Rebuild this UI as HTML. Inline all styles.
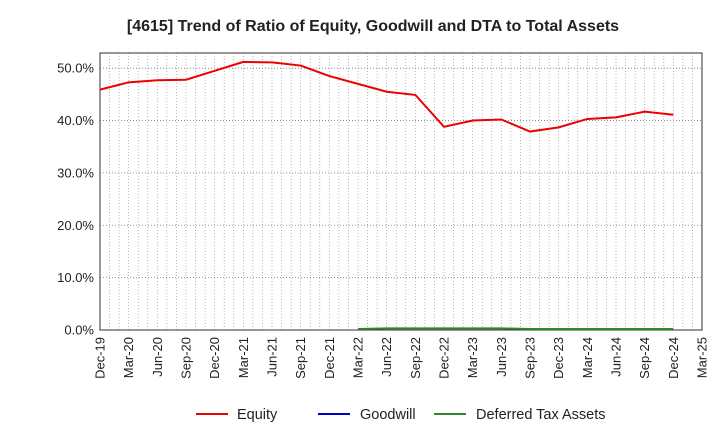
<!DOCTYPE html>
<html><head><meta charset="utf-8"><style>
body{margin:0;background:#fff;font-family:"Liberation Sans",Arial,sans-serif}
</style></head><body>
<svg id="chart" width="720" height="440" xmlns="http://www.w3.org/2000/svg" font-family="Liberation Sans, Arial, sans-serif">
<text x="373" y="31" text-anchor="middle" font-size="16" font-weight="bold" fill="#222">[4615]  Trend of Ratio of Equity, Goodwill and DTA to Total Assets</text>
<g id="grid"></g><g id="axes"></g><g id="series"></g>
<g font-size="14.5" fill="#222">
<line x1="196" y1="414" x2="228" y2="414" stroke="#e00" stroke-width="2"/><text x="237" y="419">Equity</text>
<line x1="318" y1="414" x2="350" y2="414" stroke="#00c" stroke-width="2"/><text x="360" y="419">Goodwill</text>
<line x1="434" y1="414" x2="466" y2="414" stroke="#2a8a2a" stroke-width="2"/><text x="476" y="419">Deferred Tax Assets</text>
</g>
</svg>
<script>
const categories=["Dec-19","Mar-20","Jun-20","Sep-20","Dec-20","Mar-21","Jun-21","Sep-21","Dec-21","Mar-22","Jun-22","Sep-22","Dec-22","Mar-23","Jun-23","Sep-23","Dec-23","Mar-24","Jun-24","Sep-24","Dec-24","Mar-25"];
const equity=[45.9,47.3,47.7,47.8,49.5,51.2,51.1,50.5,48.5,47.0,45.5,44.9,38.8,40.0,40.2,37.9,38.7,40.3,40.6,41.7,41.1];
const dta=[null,null,null,null,null,null,null,null,null,0.2,0.3,0.3,0.3,0.3,0.3,0.2,0.2,0.2,0.2,0.2,0.2];
const yTicks=[0,10,20,30,40,50];
const X0=100,X1=702,Y0=330,YT=53,YMAX=52.9;
const NS="http://www.w3.org/2000/svg";
const xs=i=>X0+i*(X1-X0)/(categories.length-1);
const ys=v=>Y0-v*(Y0-YT)/YMAX;
function mk(t,a,p){const e=document.createElementNS(NS,t);for(const k in a)e.setAttribute(k,a[k]);p.appendChild(e);return e;}
const grid=document.getElementById('grid'),axes=document.getElementById('axes'),ser=document.getElementById('series');
for(let m=1;m<(categories.length-1)*3;m++){const x=X0+m*(X1-X0)/((categories.length-1)*3);
const l=mk('line',{x1:x,y1:YT,x2:x,y2:Y0,stroke:'#999','stroke-width':0.7,'stroke-dasharray':'1,2'},grid);

}
yTicks.forEach(v=>{if(v>0){const l=mk('line',{x1:X0,y1:ys(v),x2:X1,y2:ys(v),stroke:'#777','stroke-width':0.8,'stroke-dasharray':'1,2'},grid);

}
const t=mk('text',{x:X0-6,y:ys(v)+4.5,'text-anchor':'end','font-size':13,fill:'#222'},axes);t.textContent=v.toFixed(1)+'%';

});
const fr=mk('rect',{x:X0,y:YT,width:X1-X0,height:Y0-YT,fill:'none',stroke:'#333','stroke-width':1},axes);


categories.forEach((c,i)=>{const x=xs(i);
const t=mk('text',{x:x+4.5,y:Y0+7,'text-anchor':'end','font-size':13,fill:'#222',transform:`rotate(-90 ${x+4.5} ${Y0+7})`},axes);t.textContent=c;

});
function line(data,color,name){let d='';data.forEach((v,i)=>{if(v==null)return;d+=(d?'L':'M')+xs(i)+','+ys(v);});
const p=mk('path',{d:d,fill:'none',stroke:color,'stroke-width':2},ser);

}
line(dta,'#2a8a2a','dta-line');
line(equity,'#e00','equity-line');
</script>
</body></html>
